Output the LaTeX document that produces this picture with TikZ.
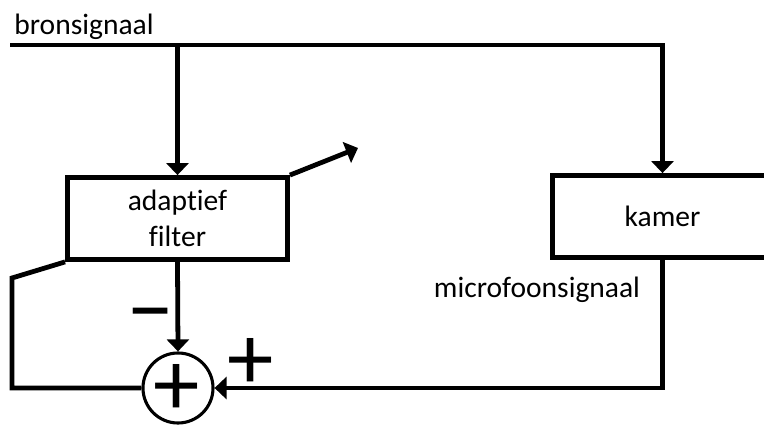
\documentclass[tikz,border=0pt]{standalone}
\usepackage{fontspec}
\setmainfont{Carlito}[Ligatures={TeX,NoCommon}]
\usetikzlibrary{arrows.meta, positioning, calc}

\begin{document}
\begin{tikzpicture}[x=0.025cm, y=-0.025cm, line width=3.4pt, >={Triangle[length=3mm, width=5.5mm]},
        blok/.style={draw, rectangle, minimum width=5.5cm, minimum height=2.05cm, align=center, font=\fontsize{21}{26}\selectfont},
        som/.style={draw, circle, line width=2.2pt, minimum size=1.75cm, inner sep=0pt},
        tekst/.style={font=\fontsize{21}{26}\selectfont, inner sep=0pt},
        teken/.style={font=\fontsize{66}{66}\selectfont, inner sep=0pt}]
        \clip (0,0) rectangle (764,425);
        \node[blok] (filter) at (177.5,218.5) {adaptief\\filter};
        \node[blok] (kamer) at (662.5,216.5) {kamer};
        \node[som] (som) at (178,388) {};
        \node[teken] (somteken) at (177,389.5) {+};
        \node[tekst, anchor=base west] (bronlabel) at (12,35) {bronsignaal};
        \node[tekst] (miclabel) at (537,290) {microfoonsignaal};
        \node[teken] (min) at (151,324) {−};
        \node[teken] (plus) at (251,363.5) {+};
        \coordinate (bron) at (10,45);
        \coordinate (fb) at (12,278);
        \coordinate (uit) at (358,148);

        \draw[->] (bron) -| (kamer.north);
        \draw[->] (bron -| filter.north) -- (filter.north);
        \draw[->] (filter.north east) -- (uit);
        \draw[->] (filter.south) -- (som.north);
        \draw[->] (kamer.south) |- (som.east);
        \draw (filter.south west) -- (fb) |- (som.west);
    \end{tikzpicture}
\end{document}
